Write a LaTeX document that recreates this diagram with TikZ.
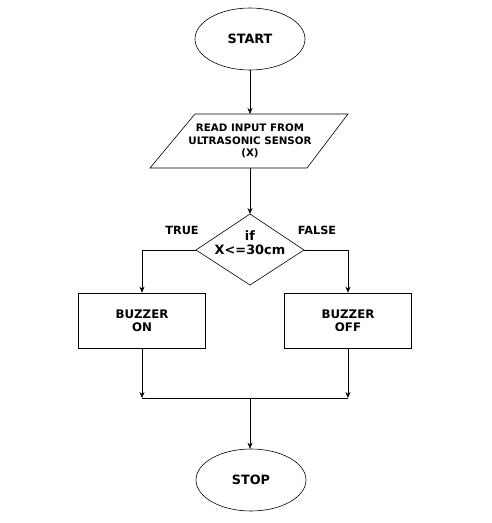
\documentclass[tikz,border=0pt]{standalone}
\usepackage{fontspec}
\setmainfont{DejaVu Sans}
\usetikzlibrary{shapes.geometric,arrows.meta}
\begin{document}
\begin{tikzpicture}[x=1pt,y=-1pt,
  every node/.style={font=\bfseries, text=black, inner sep=0pt, align=center},
  term/.style={draw, line width=0.6pt, ellipse, minimum width=110pt, minimum height=62pt},
  io/.style={draw, line width=0.6pt},
  procbox/.style={draw, line width=0.6pt, minimum width=127pt, minimum height=55pt},
  flow/.style={line width=0.6pt, -{Stealth[length=6pt,width=5pt]}},
  plain/.style={line width=0.6pt},
  lbl/.style={font=\bfseries\fontsize{11.3}{13}\selectfont}
]
\useasboundingbox (0,0) rectangle (492,523);

% terminals
\node[term, font=\bfseries\fontsize{12.8}{14}\selectfont] (start) at (250,39) {START};
\node[term, font=\bfseries\fontsize{12.8}{14}\selectfont] (stop) at (251,480) {STOP};

% input parallelogram
\coordinate (pTL) at (195,114);
\coordinate (pTR) at (348,114);
\coordinate (pBR) at (307,168);
\coordinate (pBL) at (150,168);
\draw[io] (pTL) -- (pTR) -- (pBR) -- (pBL) -- cycle;
\node[font=\bfseries\fontsize{10.3}{12.7}\selectfont] (read) at (250,141)
  {READ INPUT FROM\\ULTRASONIC SENSOR\\(X)};
\coordinate (readtop) at (250,114);
\coordinate (readbot) at (250,168);

% decision diamond
\coordinate (dT) at (250,214);
\coordinate (dR) at (304,250);
\coordinate (dB) at (250,285);
\coordinate (dL) at (196,250);
\draw[io] (dT) -- (dR) -- (dB) -- (dL) -- cycle;
\node[font=\bfseries\fontsize{12.9}{14}\selectfont] (cond) at (250,243) {if\\X<=30cm};

% branch labels
\node[lbl] (true) at (182,230) {TRUE};
\node[lbl] (false) at (317,230) {FALSE};

% process boxes
\node[procbox, font=\bfseries\fontsize{11.8}{13}\selectfont] (on) at (142,320.5) {BUZZER\\ON};
\node[procbox, font=\bfseries\fontsize{11.8}{13}\selectfont] (off) at (348,320.5) {BUZZER\\OFF};

% junction points
\coordinate (jL) at (142,398);
\coordinate (jR) at (348,398);
\coordinate (jM) at (250,398);

% connectors
\draw[flow] (start.south) -- (readtop);
\draw[flow] (readbot) -- (dT);
\draw[flow] (dL) -| (on.north);
\draw[flow] (dR) -| (off.north);
\draw[flow] (on.south) -- (jL);
\draw[flow] (off.south) -- (jR);
\draw[plain] (jL) -- (jR);
\draw[flow] (jM) -- (jM |- stop.north);
\end{tikzpicture}
\end{document}
